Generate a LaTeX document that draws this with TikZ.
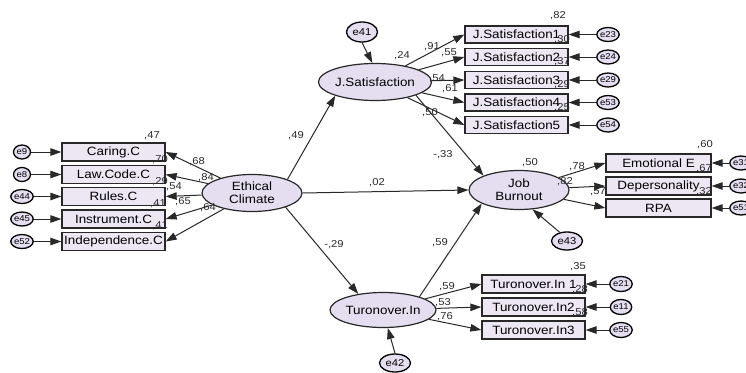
\documentclass[tikz,border=0pt]{standalone}
\usepackage{fontspec}
\setmainfont{Liberation Sans}[FakeStretch=1.12]
\usetikzlibrary{shapes.geometric,arrows.meta}

\definecolor{lav}{RGB}{228,222,240}
\definecolor{boxfill}{RGB}{236,231,243}
\definecolor{ink}{RGB}{40,40,40}

\begin{document}
\begin{tikzpicture}[x=1pt,y=-1pt,
  every node/.style={inner sep=0pt},
  latent/.style={ellipse,draw=ink,line width=1.2pt,fill=lav,minimum width=100pt,
    minimum height=37pt,font=\fontsize{12}{13}\selectfont,align=center},
  obs/.style={rectangle,draw=ink,line width=1.3pt,fill=boxfill,minimum width=103pt,
    minimum height=17pt,font=\fontsize{12}{13}\selectfont},
  err/.style={ellipse,draw=black,line width=1.3pt,fill=lav,minimum width=17pt,
    minimum height=14pt,font=\fontsize{8.5}{9}\selectfont},
  bigerr/.style={err,minimum width=31pt,minimum height=20pt,font=\fontsize{10}{11}\selectfont},
  link/.style={draw=ink,line width=1pt,-{Triangle[length=11pt,width=7.5pt]}},
  num/.style={font=\fontsize{10}{11}\selectfont,text=ink},
]
\useasboundingbox (0,0) rectangle (746,372);
\fill[white] (0,0) rectangle (746,372);

% ---------- latent variables ----------
\node[latent] (EC) at (252,193) {Ethical\\Climate};
\node[latent] (JS) at (375,82) {J.Satisfaction};
\node[latent,minimum height=39pt] (JB) at (519,190) {Job\\Burnout};
\node[latent,minimum height=35pt] (TI) at (383,310) {Turonover.In};

% ---------- disturbances ----------
\node[bigerr] (e41) at (362,32) {e41};
\node[bigerr,minimum height=18pt] (e43) at (567,241) {e43};
\node[bigerr,minimum height=18pt] (e42) at (395,363) {e42};

% ---------- ethical climate indicators ----------
\foreach \n/\y/\t/\e in {c1/152/Caring.C/e9, c2/174.5/Law.Code.C/e8,
    c3/196.5/Rules.C/e44, c4/219/Instrument.C/e45, c5/241.5/Independence.C/e52}{
  \node[obs,minimum height=18pt] (\n) at (113.5,\y) {\t};
  \node[err] (\n e) at (22,\y) {\e};
  \draw[link] (\n e) -- (\n.west);
  \draw[link] (EC) -- (\n.east);
}

% ---------- job satisfaction indicators ----------
\foreach \n/\y/\t/\e in {s1/34.5/J.Satisfaction1/e23, s2/57/J.Satisfaction2/e24,
    s3/80/J.Satisfaction3/e29, s4/102.5/J.Satisfaction4/e53, s5/125/J.Satisfaction5/e54}{
  \node[obs] (\n) at (516.5,\y) {\t};
  \node[err] (\n e) at (608,\y) {\e};
  \draw[link] (\n e) -- (\n.east);
  \draw[link] (JS) -- (\n.west);
}

% ---------- job burnout indicators ----------
\foreach \n/\y/\t/\e in {b1/163/Emotional E/e31, b2/186/Depersonality/e32, b3/208/RPA/e51}{
  \node[obs,minimum width=105pt,minimum height=18pt] (\n) at (658.5,\y) {\t};
  \node[err] (\n e) at (741,\y) {\e};
  \draw[link] (\n e) -- (\n.east);
  \draw[link] (JB) -- (\n.west);
}

% ---------- turnover intention indicators ----------
\foreach \n/\y/\t/\e in {t1/284/Turonover.In 1/e21, t2/307/Turonover.In2/e11, t3/330/Turonover.In3/e55}{
  \node[obs,minimum height=18pt] (\n) at (533.5,\y) {\t};
  \node[err,minimum height=15pt] (\n e) at (621,\y) {\e};
  \draw[link] (\n e) -- (\n.east);
  \draw[link] (TI) -- (\n.west);
}

% ---------- structural paths ----------
\draw[link] (EC.21) -- (JS.199);
\draw[link] (EC.east) -- (JB.west);
\draw[link] (EC.-23) -- (TI.147);
\draw[link] (TI.20) -- (JB.-160);
\draw[link] (JS.-18) -- (JB.158);
\draw[link] (e41.south) -- (JS.98);
\draw[link] (e42.north) -- (TI.-75);
\draw[link] (e43.130) -- (JB.-55);

% ---------- estimates ----------
\foreach \x/\y/\v in {152/136/{,47}, 160/160/{,70}, 160/182/{,29}, 158/204/{,41}, 160/226/{,41},
    197/162/{,68}, 206/178/{,84}, 174/187/{,54}, 183/202/{,65}, 208/208/{,64},
    402/56/{,24}, 432/47/{,91}, 449/53/{,55}, 437/79/{,54}, 450/89/{,61}, 430/113/{,50},
    558/16/{,82}, 562/40/{,30}, 562/62/{,37}, 562/85/{,29}, 562/108/{,25},
    296/136/{,49}, 377/183/{,02}, 334/245/{-,29}, 440/243/{,59}, 443/155/{-,33},
    530/163/{,50}, 577/167/{,78}, 565/182/{,82}, 598/192/{,57},
    705/145/{,60}, 704/169/{,67}, 704/192/{,32},
    447/287/{,59}, 443/303/{,53}, 445/317/{,76},
    578/267/{,35}, 580/290/{,28}, 580/313/{,58}}{
  \node[num] at (\x,\y) {\v};
}
\end{tikzpicture}
\end{document}
